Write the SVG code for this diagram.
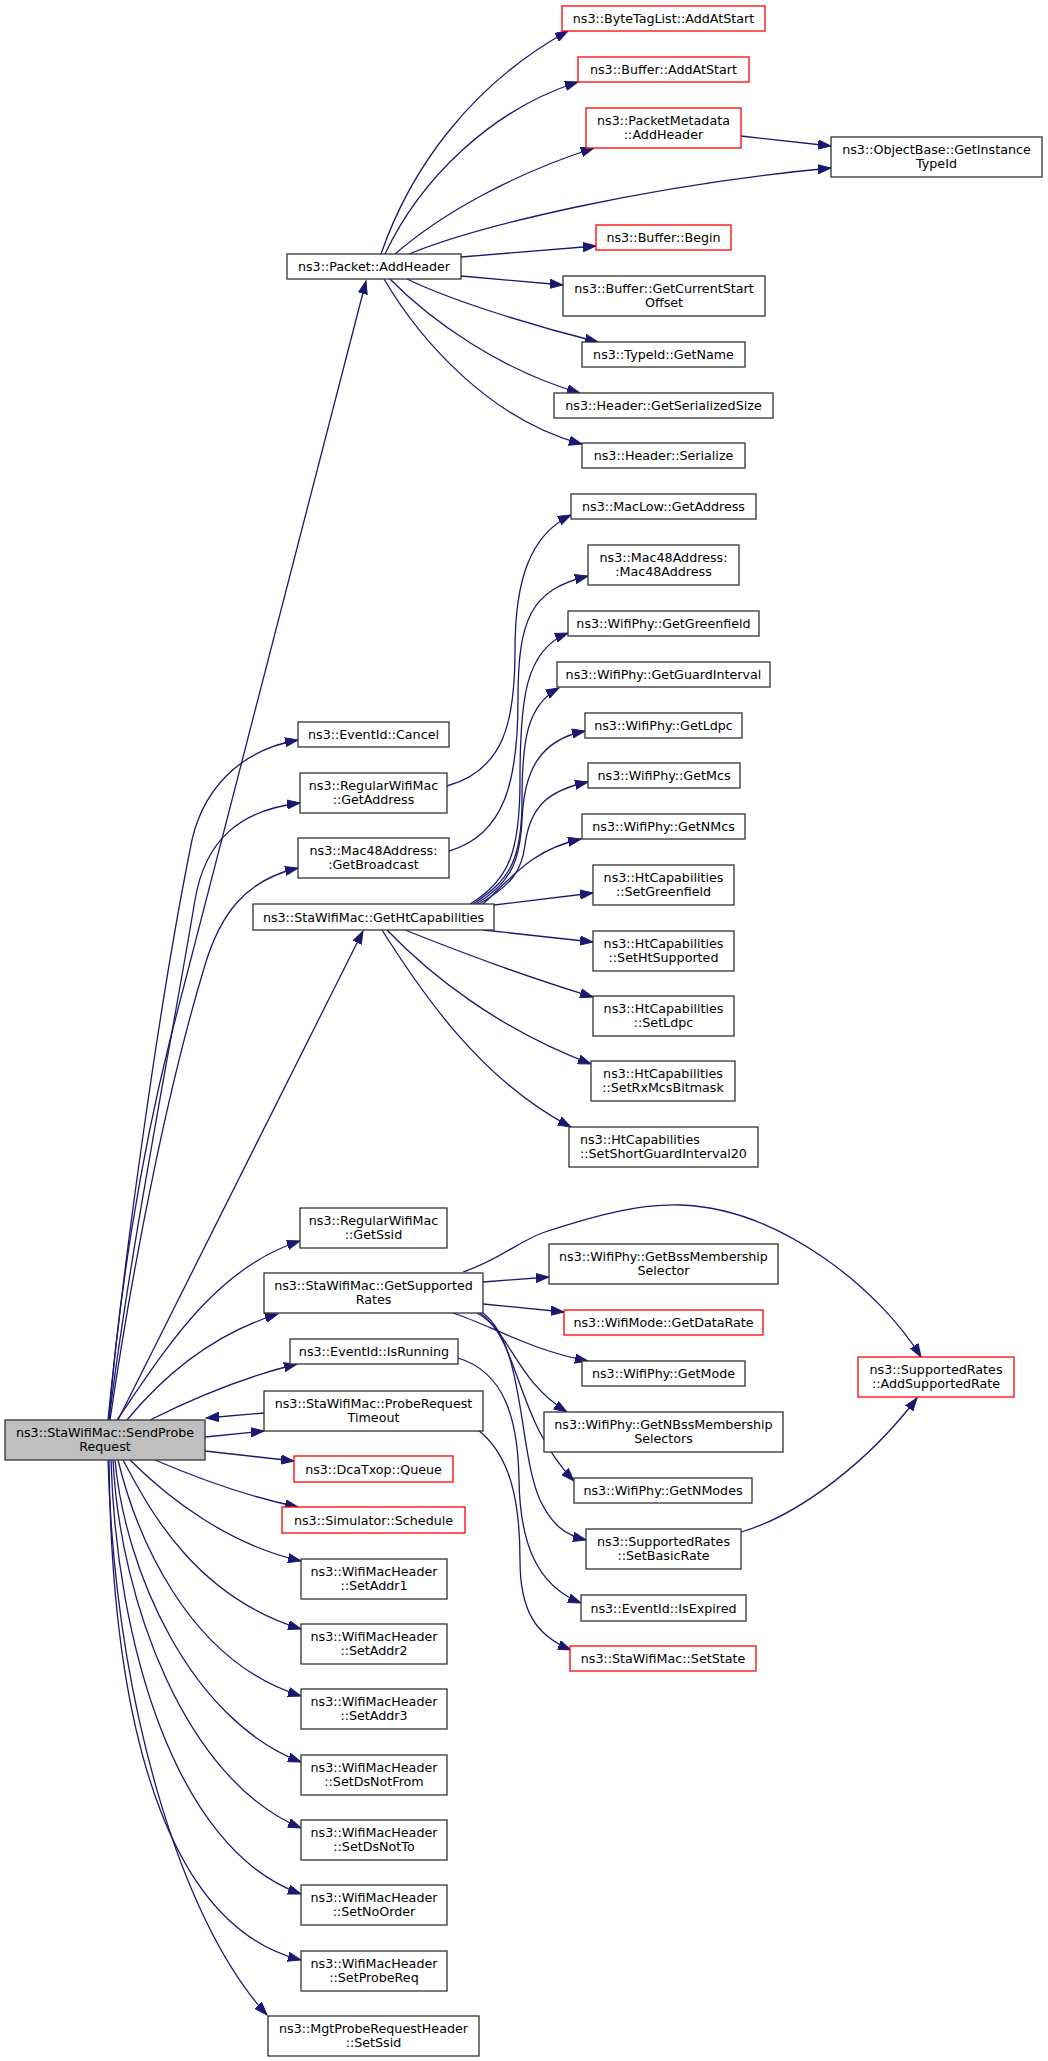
<svg xmlns="http://www.w3.org/2000/svg" width="1048" height="2061" viewBox="0 0 1048 2061">
<style>
.n rect{fill:#ffffff;stroke:#333333;stroke-width:1.3}
.n.red rect{stroke:#ff0000}
.n.main rect{fill:#bfbfbf}
.n text{font-family:"DejaVu Sans","Liberation Sans",sans-serif;font-size:12.7px;fill:#000000;text-anchor:middle}
.n text.l{text-anchor:start}
#edges path{fill:none;stroke:#191970;stroke-width:1.3;marker-end:url(#ah)}
</style>
<defs>
<marker id="ah" markerUnits="userSpaceOnUse" markerWidth="14" markerHeight="10" viewBox="0 -5 14 10" refX="13" refY="0" orient="auto">
<path d="M0,-4.6 L13,0 L0,4.6 z" fill="#191970" stroke="#191970" stroke-width="1"/>
</marker>
</defs>
<rect x="0" y="0" width="1048" height="2061" fill="#ffffff"/>
<g id="edges">
<path d="M109,1420 C118,1300 140,1160 170,1040 L366,281"/>
<path d="M108,1420 C125,1250 160,1000 190,850 C200,790 240,750 298,740"/>
<path d="M109,1420 C130,1250 170,1050 195,900 C205,840 240,810 300,803"/>
<path d="M110,1420 C135,1250 170,1080 205,965 C220,915 245,880 298,868"/>
<path d="M118,1420 L363,931"/>
<path d="M117,1420 C165,1350 215,1268 300,1241"/>
<path d="M127,1420 C160,1380 210,1335 278,1314"/>
<path d="M150,1420 C190,1400 240,1378 297,1364"/>
<path d="M205,1437 L264,1431"/>
<path d="M264,1413 L206,1418"/>
<path d="M205,1451 L294,1461"/>
<path d="M155,1460 C190,1475 240,1495 298,1507"/>
<path d="M130,1460 C170,1500 230,1545 301,1561"/>
<path d="M123,1460 C145,1500 190,1595 301,1629"/>
<path d="M118,1460 C135,1530 185,1660 301,1696"/>
<path d="M115,1460 C125,1570 190,1720 301,1762"/>
<path d="M113,1460 C120,1600 185,1780 301,1828"/>
<path d="M111,1460 C116,1640 175,1850 301,1894"/>
<path d="M109,1460 C112,1760 180,1930 301,1960"/>
<path d="M108,1460 C115,1700 180,1920 267,2015"/>
<path d="M381,254 C410,170 470,85 568,31"/>
<path d="M385,254 C420,180 490,110 578,82"/>
<path d="M395,254 C440,215 510,175 594,148"/>
<path d="M409,254 C480,225 650,185 831,168"/>
<path d="M461,257 L596,246"/>
<path d="M461,276 L563,285"/>
<path d="M407,279 C450,300 530,325 598,342"/>
<path d="M390,279 C430,320 500,370 580,393"/>
<path d="M384,279 C420,340 490,420 582,444"/>
<path d="M741,136 L831,146"/>
<path d="M447,786 C505,770 515,720 515,650 C515,580 530,535 571,515"/>
<path d="M449,851 C505,835 518,780 518,700 C518,620 530,590 588,576"/>
<path d="M470,904 C510,880 520,850 520,780 C520,700 525,650 568,633"/>
<path d="M473,904 C510,880 522,860 522,800 C522,740 527,705 559,688"/>
<path d="M476,904 C512,882 520,860 522,820 C524,770 540,740 585,731"/>
<path d="M479,904 C512,885 522,870 525,845 C530,805 550,790 588,782"/>
<path d="M483,904 C510,880 530,850 581,839"/>
<path d="M494,905 L593,893"/>
<path d="M483,930 L593,942"/>
<path d="M405,930 C450,948 530,978 593,997"/>
<path d="M387,930 C430,975 500,1030 591,1064"/>
<path d="M382,930 C420,990 480,1080 571,1127"/>
<path d="M463,1272 C500,1260 520,1240 545,1232 C600,1214 640,1204 680,1205 C780,1208 880,1290 921,1357"/>
<path d="M483,1282 L549,1277"/>
<path d="M483,1304 L564,1312"/>
<path d="M453,1313 C490,1325 530,1350 588,1361"/>
<path d="M477,1313 C510,1330 515,1380 567,1412"/>
<path d="M480,1313 C520,1340 515,1420 574,1481"/>
<path d="M483,1313 C525,1345 518,1450 540,1500 C552,1525 565,1535 586,1540"/>
<path d="M741,1532 C800,1515 870,1460 917,1398"/>
<path d="M458,1358 C505,1372 518,1420 519,1480 C520,1540 535,1585 581,1603"/>
<path d="M478,1430 C510,1455 520,1500 520,1560 C520,1610 535,1635 571,1650"/>
</g>
<g id="n_main" class="n main"><rect x="5" y="1420" width="200" height="40"/><text x="105" y="1436.5">ns3::StaWifiMac::SendProbe</text><text x="105" y="1451.4">Request</text></g>
<g id="n1" class="n"><rect x="287" y="254" width="174" height="25"/><text x="374" y="271">ns3::Packet::AddHeader</text></g>
<g id="n2" class="n"><rect x="298" y="722" width="151" height="25"/><text x="373.5" y="739">ns3::EventId::Cancel</text></g>
<g id="n3" class="n"><rect x="300" y="773" width="147" height="40"/><text x="373.5" y="789.5">ns3::RegularWifiMac</text><text x="373.5" y="804.4">::GetAddress</text></g>
<g id="n4" class="n"><rect x="298" y="838" width="151" height="40"/><text x="373.5" y="854.5">ns3::Mac48Address:</text><text x="373.5" y="869.4">:GetBroadcast</text></g>
<g id="n5" class="n"><rect x="253" y="904" width="241" height="26"/><text x="373.5" y="921.5">ns3::StaWifiMac::GetHtCapabilities</text></g>
<g id="n6" class="n"><rect x="300" y="1208" width="147" height="40"/><text x="373.5" y="1224.5">ns3::RegularWifiMac</text><text x="373.5" y="1239.4">::GetSsid</text></g>
<g id="n7" class="n"><rect x="264" y="1273" width="219" height="40"/><text x="373.5" y="1289.5">ns3::StaWifiMac::GetSupported</text><text x="373.5" y="1304.4">Rates</text></g>
<g id="n8" class="n"><rect x="290" y="1339" width="168" height="25"/><text x="374" y="1356">ns3::EventId::IsRunning</text></g>
<g id="n9" class="n"><rect x="264" y="1391" width="219" height="40"/><text x="373.5" y="1407.5">ns3::StaWifiMac::ProbeRequest</text><text x="373.5" y="1422.4">Timeout</text></g>
<g id="n10" class="n red"><rect x="294" y="1456" width="159" height="26"/><text x="373.5" y="1473.5">ns3::DcaTxop::Queue</text></g>
<g id="n11" class="n red"><rect x="282" y="1507" width="183" height="26"/><text x="373.5" y="1524.5">ns3::Simulator::Schedule</text></g>
<g id="n12" class="n"><rect x="301" y="1559" width="146" height="40"/><text x="374" y="1575.5">ns3::WifiMacHeader</text><text x="374" y="1590.4">::SetAddr1</text></g>
<g id="n13" class="n"><rect x="301" y="1624" width="146" height="40"/><text x="374" y="1640.5">ns3::WifiMacHeader</text><text x="374" y="1655.4">::SetAddr2</text></g>
<g id="n14" class="n"><rect x="301" y="1689" width="146" height="40"/><text x="374" y="1705.5">ns3::WifiMacHeader</text><text x="374" y="1720.4">::SetAddr3</text></g>
<g id="n15" class="n"><rect x="301" y="1755" width="146" height="40"/><text x="374" y="1771.5">ns3::WifiMacHeader</text><text x="374" y="1786.4">::SetDsNotFrom</text></g>
<g id="n16" class="n"><rect x="301" y="1820" width="146" height="40"/><text x="374" y="1836.5">ns3::WifiMacHeader</text><text x="374" y="1851.4">::SetDsNotTo</text></g>
<g id="n17" class="n"><rect x="301" y="1885" width="146" height="40"/><text x="374" y="1901.5">ns3::WifiMacHeader</text><text x="374" y="1916.4">::SetNoOrder</text></g>
<g id="n18" class="n"><rect x="301" y="1951" width="146" height="40"/><text x="374" y="1967.5">ns3::WifiMacHeader</text><text x="374" y="1982.4">::SetProbeReq</text></g>
<g id="n19" class="n"><rect x="268" y="2016" width="211" height="40"/><text x="373.5" y="2032.5">ns3::MgtProbeRequestHeader</text><text x="373.5" y="2047.4">::SetSsid</text></g>
<g id="r1" class="n red"><rect x="562" y="6" width="203" height="25"/><text x="663.5" y="23">ns3::ByteTagList::AddAtStart</text></g>
<g id="r2" class="n red"><rect x="578" y="57" width="171" height="25"/><text x="663.5" y="74">ns3::Buffer::AddAtStart</text></g>
<g id="r3" class="n red"><rect x="586" y="108" width="155" height="40"/><text x="663.5" y="124.5">ns3::PacketMetadata</text><text x="663.5" y="139.4">::AddHeader</text></g>
<g id="r4" class="n red"><rect x="596" y="225" width="135" height="25"/><text x="663.5" y="242">ns3::Buffer::Begin</text></g>
<g id="r5" class="n"><rect x="563" y="276" width="202" height="40"/><text x="664" y="292.5">ns3::Buffer::GetCurrentStart</text><text x="664" y="307.4">Offset</text></g>
<g id="r6" class="n"><rect x="582" y="342" width="163" height="25"/><text x="663.5" y="359">ns3::TypeId::GetName</text></g>
<g id="r7" class="n"><rect x="554" y="393" width="219" height="25"/><text x="663.5" y="410">ns3::Header::GetSerializedSize</text></g>
<g id="r8" class="n"><rect x="582" y="443" width="163" height="25"/><text x="663.5" y="460">ns3::Header::Serialize</text></g>
<g id="r9" class="n"><rect x="571" y="494" width="185" height="25"/><text x="663.5" y="511">ns3::MacLow::GetAddress</text></g>
<g id="r10" class="n"><rect x="588" y="545" width="151" height="40"/><text x="663.5" y="561.5">ns3::Mac48Address:</text><text x="663.5" y="576.4">:Mac48Address</text></g>
<g id="r11" class="n"><rect x="568" y="611" width="191" height="25"/><text x="663.5" y="628">ns3::WifiPhy::GetGreenfield</text></g>
<g id="r12" class="n"><rect x="557" y="662" width="213" height="25"/><text x="663.5" y="679">ns3::WifiPhy::GetGuardInterval</text></g>
<g id="r13" class="n"><rect x="585" y="713" width="157" height="25"/><text x="663.5" y="730">ns3::WifiPhy::GetLdpc</text></g>
<g id="r14" class="n"><rect x="588" y="763" width="152" height="25"/><text x="664" y="780">ns3::WifiPhy::GetMcs</text></g>
<g id="r15" class="n"><rect x="582" y="814" width="163" height="25"/><text x="663.5" y="831">ns3::WifiPhy::GetNMcs</text></g>
<g id="r16" class="n"><rect x="593" y="865" width="141" height="40"/><text x="663.5" y="881.5">ns3::HtCapabilities</text><text x="663.5" y="896.4">::SetGreenfield</text></g>
<g id="r17" class="n"><rect x="593" y="931" width="141" height="40"/><text x="663.5" y="947.5">ns3::HtCapabilities</text><text x="663.5" y="962.4">::SetHtSupported</text></g>
<g id="r18" class="n"><rect x="593" y="996" width="141" height="40"/><text x="663.5" y="1012.5">ns3::HtCapabilities</text><text x="663.5" y="1027.4">::SetLdpc</text></g>
<g id="r19" class="n"><rect x="591" y="1061" width="144" height="40"/><text x="663" y="1077.5">ns3::HtCapabilities</text><text x="663" y="1092.4">::SetRxMcsBitmask</text></g>
<g id="r20" class="n"><rect x="569" y="1127" width="189" height="40"/><text class="l" x="580" y="1143.5">ns3::HtCapabilities</text><text class="l" x="580" y="1158.4">::SetShortGuardInterval20</text></g>
<g id="r21" class="n"><rect x="549" y="1244" width="229" height="40"/><text x="663.5" y="1260.5">ns3::WifiPhy::GetBssMembership</text><text x="663.5" y="1275.4">Selector</text></g>
<g id="r22" class="n red"><rect x="564" y="1310" width="199" height="25"/><text x="663.5" y="1327">ns3::WifiMode::GetDataRate</text></g>
<g id="r23" class="n"><rect x="582" y="1361" width="163" height="25"/><text x="663.5" y="1378">ns3::WifiPhy::GetMode</text></g>
<g id="r24" class="n"><rect x="544" y="1412" width="239" height="40"/><text x="663.5" y="1428.5">ns3::WifiPhy::GetNBssMembership</text><text x="663.5" y="1443.4">Selectors</text></g>
<g id="r25" class="n"><rect x="574" y="1478" width="178" height="25"/><text x="663" y="1495">ns3::WifiPhy::GetNModes</text></g>
<g id="r26" class="n"><rect x="586" y="1529" width="155" height="40"/><text x="663.5" y="1545.5">ns3::SupportedRates</text><text x="663.5" y="1560.4">::SetBasicRate</text></g>
<g id="r27" class="n"><rect x="581" y="1595" width="165" height="26"/><text x="663.5" y="1612.5">ns3::EventId::IsExpired</text></g>
<g id="r28" class="n red"><rect x="570" y="1646" width="186" height="25"/><text x="663" y="1663">ns3::StaWifiMac::SetState</text></g>
<g id="s1" class="n"><rect x="831" y="137" width="211" height="40"/><text x="936.5" y="153.5">ns3::ObjectBase::GetInstance</text><text x="936.5" y="168.4">TypeId</text></g>
<g id="s2" class="n red"><rect x="858" y="1357" width="156" height="40"/><text x="936" y="1373.5">ns3::SupportedRates</text><text x="936" y="1388.4">::AddSupportedRate</text></g>
</svg>
